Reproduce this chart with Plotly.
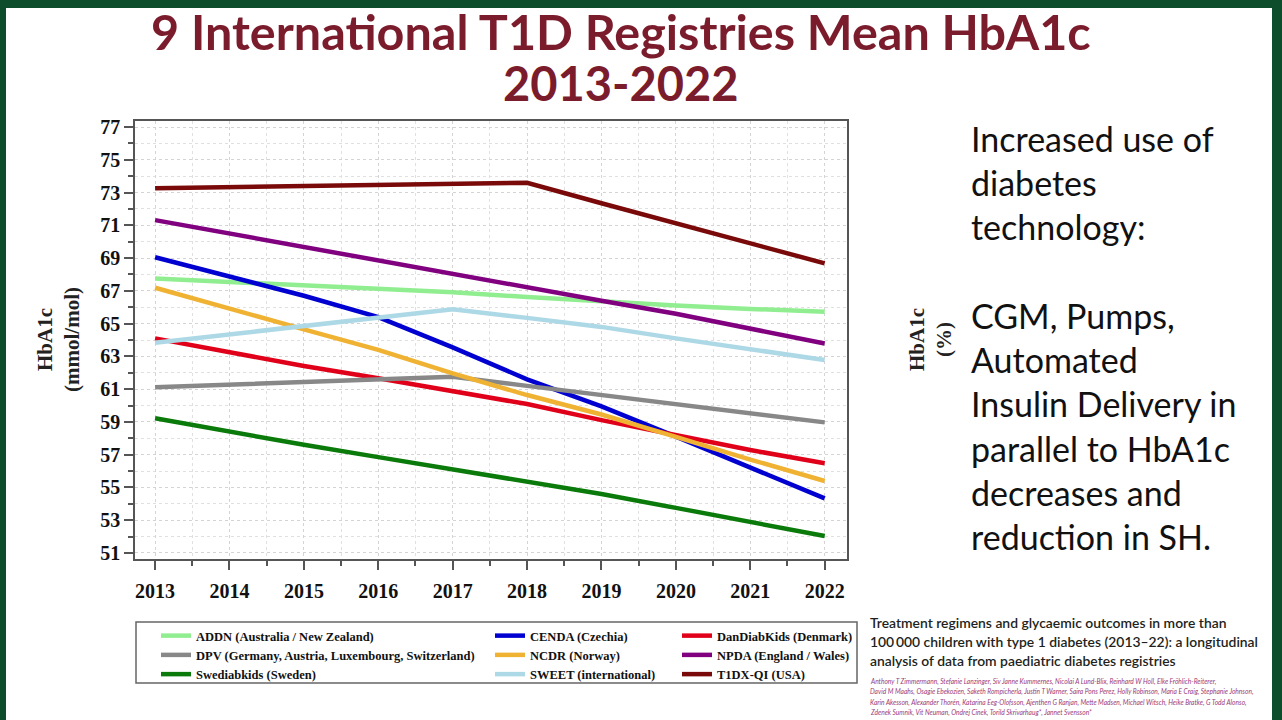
import plotly.graph_objects as go

# ---------------- data ----------------
years = [2013, 2014, 2015, 2016, 2017, 2018, 2019, 2020, 2021, 2022]

addn    = [67.76, 67.55, 67.35, 67.13, 66.91, 66.62, 66.35, 66.10, 65.90, 65.72]
cenda   = [69.05, 67.90, 66.70, 65.40, 63.55, 61.60, 59.95, 58.10, 56.20, 54.33]
dandiab = [64.10, 63.25, 62.41, 61.66, 60.84, 60.09, 59.11, 58.20, 57.28, 56.47]
dpv     = [61.11, 61.27, 61.42, 61.60, 61.76, 61.20, 60.65, 60.10, 59.55, 58.97]
ncdr    = [67.19, 65.90, 64.65, 63.40, 61.96, 60.64, 59.45, 58.09, 56.70, 55.39]
npda    = [71.32, 70.50, 69.65, 68.80, 68.00, 67.19, 66.40, 65.60, 64.70, 63.79]
swedi   = [59.22, 58.40, 57.60, 56.85, 56.10, 55.35, 54.60, 53.75, 52.90, 52.03]
sweet   = [63.83, 64.35, 64.85, 65.35, 65.88, 65.35, 64.80, 64.10, 63.45, 62.78]
t1dx    = [73.26, 73.32, 73.38, 73.43, 73.50, 73.60, 72.35, 71.12, 69.90, 68.68]

series_names = [
    "ADDN (Australia / New Zealand)", "CENDA (Czechia)", "DanDiabKids (Denmark)",
    "DPV (Germany, Austria, Luxembourg, Switzerland)", "NCDR (Norway)", "NPDA (England / Wales)",
    "Swediabkids (Sweden)", "SWEET (international)", "T1DX-QI (USA)",
]
series_values = [addn, cenda, dandiab, dpv, ncdr, npda, swedi, sweet, t1dx]

y_ticks = [51, 53, 55, 57, 59, 61, 63, 65, 67, 69, 71, 73, 75, 77]
y2_ticks = [6.8, 7.0, 7.2, 7.4, 7.6, 7.8, 8.0, 8.2, 8.4, 8.6, 8.8, 9.0, 9.2]

title_lines = ["9 International T1D Registries Mean HbA1c", "2013-2022"]
side_lines = ["Increased use of", "diabetes", "technology:", "", "CGM, Pumps,", "Automated",
              "Insulin Delivery in", "parallel to HbA1c", "decreases and", "reduction in SH."]
paper_title = ["Treatment regimens and glycaemic outcomes in more than",
               "100\u2009000 children with type 1 diabetes (2013\u201322): a longitudinal",
               "analysis of data from paediatric diabetes registries"]
authors = ["Anthony T Zimmermann, Stefanie Lanzinger, Siv Janne Kummernes, Nicolai A Lund-Blix, Reinhard W Holl, Elke Fr\u00f6hlich-Reiterer,",
           "David M Maahs, Osagie Ebekozien, Saketh Rompicherla, Justin T Warner, Saira Pons Perez, Holly Robinson, Maria E Craig, Stephanie Johnson,",
           "Karin Akesson, Alexander Thor\u00e9n, Katarina Eeg-Olofsson, Ajenthen G Ranjan, Mette Madsen, Michael Witsch, Heike Bratke, G Todd Alonso,",
           "Zdenek Sumnik, Vit Neuman, Ondrej Cinek, Torild Skrivarhaug*, Jannet Svensson*"]

# ---------------- styling ----------------
colors = ["#90EE90", "#0000D0", "#E0001A", "#888888", "#F0B232", "#800080", "#0A7A0A", "#ADD8E6", "#7A0A0A"]
legend_ids = ["legend", "legend2", "legend3"] * 3

W, H = 1282, 720
PL, PR, PT, PB = 135, 847, 121, 559   # plot area in pixels

def px(x):
    return (x - PL) / (PR - PL)

def py(y):
    return (PB - y) / (PB - PT)

fig = go.Figure()
for name, vals, col, lg in zip(series_names, series_values, colors, legend_ids):
    fig.add_trace(go.Scatter(x=years, y=vals, mode="lines", name=name,
                             line=dict(color=col, width=4.5), legend=lg))

tickfont = dict(family="Liberation Serif", size=20, color="#111", weight="bold")
grid = dict(showgrid=True, gridcolor="#d4d4d4", griddash="dot", gridwidth=1)

fig.update_layout(
    width=W, height=H,
    paper_bgcolor="#0E4D2C", plot_bgcolor="white",
    margin=dict(l=PL, r=W - PR, t=PT, b=H - PB, autoexpand=False),
    showlegend=True,
    xaxis=dict(range=[2012.73, 2022.3], tickvals=years, tickfont=tickfont,
               showline=True, linecolor="#555", linewidth=1.5, mirror=True,
               ticks="outside", ticklen=9, tickcolor="#555", tickwidth=1.5,
               ticklabelstandoff=4,
               minor=dict(dtick=0.5, ticks="outside", ticklen=5, tickcolor="#555",
                          showgrid=True, gridcolor="#e0e0e0", griddash="dot"),
               zeroline=False, **grid),
    yaxis=dict(range=[50.63, 77.37], tickvals=y_ticks, tickfont=tickfont,
               showline=True, linecolor="#555", linewidth=1.5, mirror=True,
               ticks="outside", ticklen=9, tickcolor="#555", tickwidth=1.5,
               minor=dict(dtick=1, ticks="outside", ticklen=5, tickcolor="#555",
                          showgrid=True, gridcolor="#e0e0e0", griddash="dot"),
               zeroline=False, **grid),
    yaxis2=dict(range=[6.752, 9.234], overlaying="y", side="right", anchor="x",
                tickvals=y2_ticks, ticktext=[f"{v:.1f}" for v in y2_ticks], tickfont=tickfont,
                ticks="outside", ticklen=9, tickcolor="#555", tickwidth=1.5,
                ticklabelstandoff=9,
                showgrid=False, zeroline=False, showline=False),
)

legfont = dict(family="Liberation Serif", size=12.5, color="#111", weight="bold")
leg_x = [156, 490, 677]
for lid, lx in zip(["legend", "legend2", "legend3"], leg_x):
    fig.update_layout({lid: dict(x=px(lx), y=py(621), xanchor="left", yanchor="top",
                                 orientation="v", bgcolor="rgba(0,0,0,0)", borderwidth=0,
                                 font=legfont, tracegroupgap=0)})

shapes = [
    dict(type="rect", xref="paper", yref="paper", layer="below",
         x0=px(6), x1=px(1272), y0=py(722), y1=py(8),
         fillcolor="white", line=dict(width=0)),
    dict(type="rect", xref="paper", yref="paper",
         x0=px(136), x1=px(857), y0=py(683), y1=py(622),
         fillcolor="rgba(0,0,0,0)", line=dict(color="#666", width=1.5)),
]
fig.update_layout(shapes=shapes)

ann = []
for line, yc, fs in zip(title_lines, [31, 83], [48.5, 47]):
    ann.append(dict(text=line, x=px(621), y=py(yc), xref="paper", yref="paper",
                    xanchor="center", yanchor="middle", showarrow=False,
                    font=dict(family="Lato", size=fs, color="#7B1C2C", weight="bold")))
for i, line in enumerate(side_lines):
    if line:
        ann.append(dict(text=line, x=px(969), y=py(138 + i * 44.3), xref="paper", yref="paper",
                        xanchor="left", yanchor="middle", showarrow=False,
                        font=dict(family="Lato", size=34, color="#111")))
ann.append(dict(text="<b>HbA1c</b><br><b>(mmol/mol)</b>", x=px(58), y=py(340), xref="paper", yref="paper",
                textangle=-90, xanchor="center", yanchor="middle", showarrow=False,
                font=dict(family="Liberation Serif", size=21, color="#222")))
ann.append(dict(text="<b>HbA1c</b><br><b>(%)</b>", x=px(930), y=py(340), xref="paper", yref="paper",
                textangle=-90, xanchor="center", yanchor="middle", showarrow=False,
                font=dict(family="Liberation Serif", size=21, color="#222")))
for i, line in enumerate(paper_title):
    ann.append(dict(text=line, x=px(868), y=py(622 + i * 19.3), xref="paper", yref="paper",
                    xanchor="left", yanchor="middle", showarrow=False,
                    font=dict(family="Lato", size=13.9, color="#231F20", weight=600)))
for i, line in enumerate(authors):
    ann.append(dict(text=line, x=px(868), y=py(681 + i * 10.5), xref="paper", yref="paper",
                    xanchor="left", yanchor="middle", showarrow=False,
                    font=dict(family="Lato", size=6.6, color="#9B3A78", style="italic")))
fig.update_layout(annotations=ann)

fig.write_html("out.html", config={"displayModeBar": False},
               post_script="document.body.style.margin='0';document.body.style.overflow='hidden';")
